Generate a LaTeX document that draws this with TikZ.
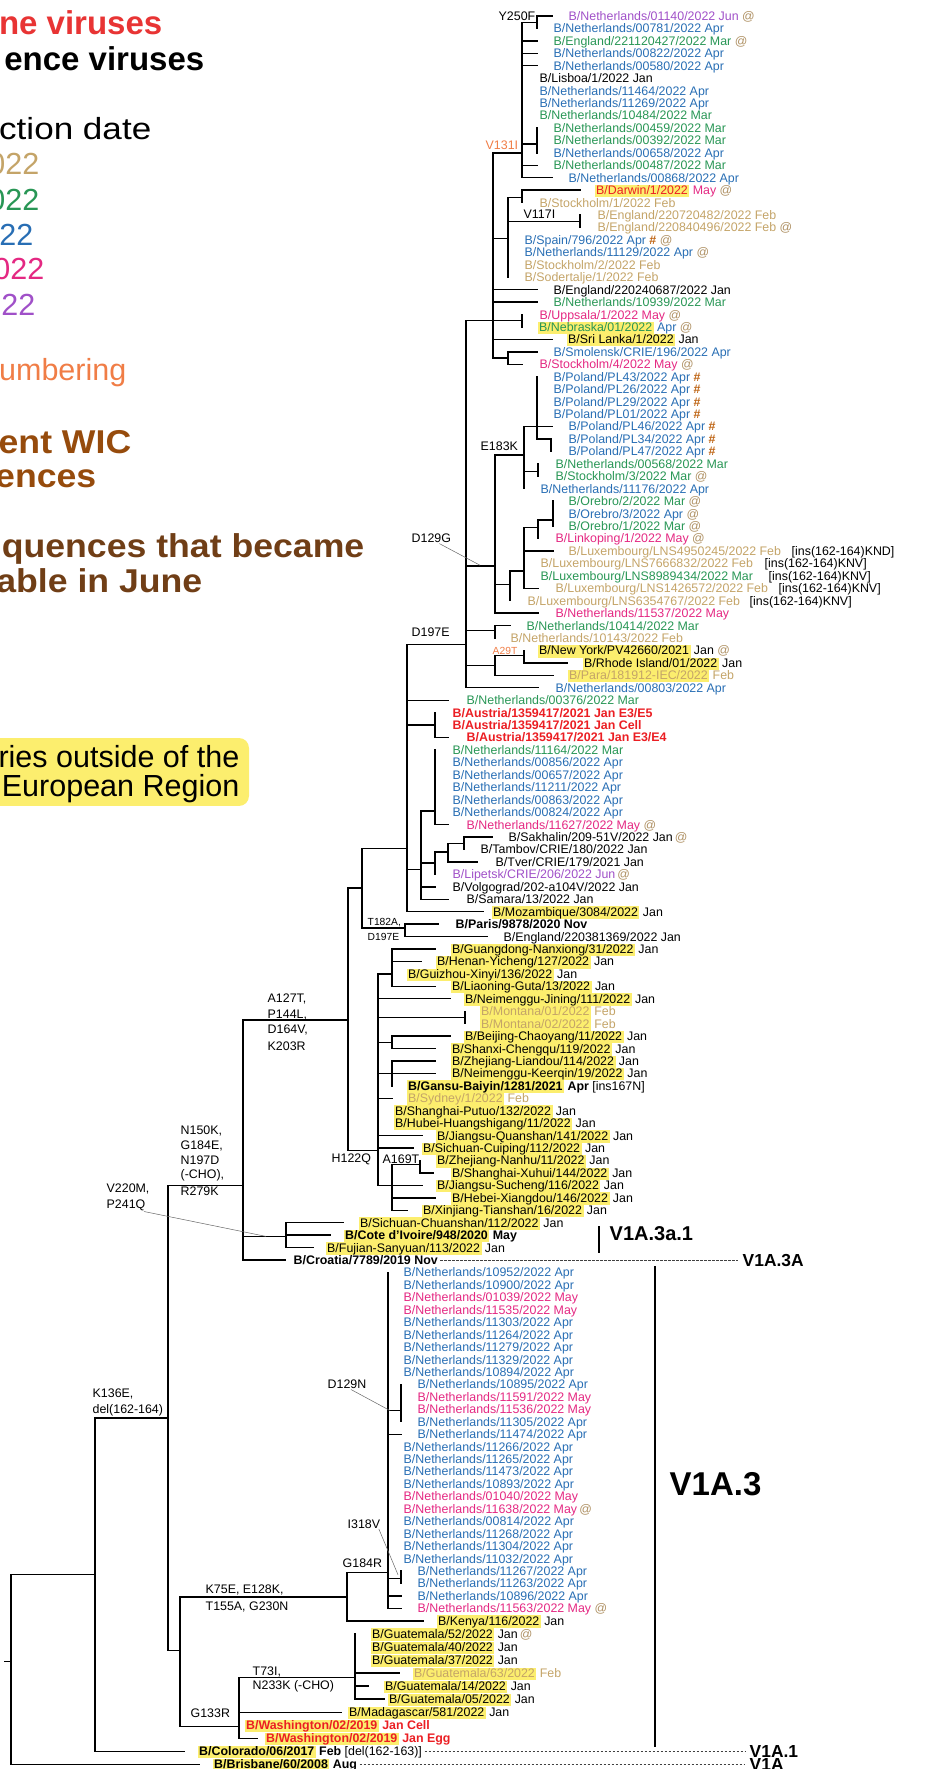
\documentclass[tikz,border=0pt]{standalone}
\usepackage{fontspec}
\setmainfont{Liberation Sans}
\usepackage{graphicx}
\definecolor{cfeb}{RGB}{196,164,104}
\definecolor{cmar}{RGB}{40,150,85}
\definecolor{capr}{RGB}{40,110,180}
\definecolor{cmay}{RGB}{228,40,130}
\definecolor{cjun}{RGB}{160,80,200}
\definecolor{cvac}{RGB}{235,30,35}
\definecolor{cvacl}{RGB}{232,52,52}
\definecolor{cnum}{RGB}{240,125,70}
\definecolor{cwic}{RGB}{150,75,12}
\definecolor{cjune}{RGB}{112,62,22}
\definecolor{cat}{RGB}{175,145,100}
\definecolor{chash}{RGB}{190,100,20}
\definecolor{hly}{RGB}{252,238,110}
\setlength{\fboxsep}{0pt}
\newcommand{\hlname}[1]{\colorbox{hly}{\hspace{1.5pt}\rule[-2.6pt]{0pt}{12.44pt}#1\hspace{1.5pt}}}
\newcommand{\atmark}{\textcolor{cat}{@}}
\newcommand{\hashmark}{\textcolor{chash}{\textbf{\#}}}
\tikzset{
  tip/.style={anchor=west, inner sep=0pt, text height=8.9pt, text depth=0pt, font=\fontsize{12.4}{14}\selectfont},
  mut/.style={anchor=west, inner sep=0pt, font=\fontsize{12.4}{14}\selectfont},
  smallmut/.style={anchor=west, inner sep=0pt, font=\fontsize{10.3}{12}\selectfont},
  lead/.style={line width=0.5pt, black!60, line cap=butt},
  clade/.style={line width=0.7pt, black!75, line cap=butt, dash pattern=on 2.5pt off 1.5pt},
  cladename/.style={anchor=west, inner sep=0pt, font=\bfseries\fontsize{17.4}{20}\selectfont},
  legend/.style={anchor=base east, inner sep=0pt, font=\fontsize{30.5}{34}\selectfont},
  legendbold/.style={anchor=base east, inner sep=0pt, font=\bfseries\fontsize{33}{36}\selectfont}
}
\begin{document}
\begin{tikzpicture}[x=1pt, y=-12.44pt, line width=1.4pt, line cap=rect]
\useasboundingbox (0,-0.2862) rectangle (942,141.914);

\fill[hly, rounded corners=10pt] (-12,59.04) rectangle (249,64.5);
\node[legendbold, text=cvacl] (lvac) at (163,2.527) {ne viruses};
\node[legendbold] (lref) at (205,5.42) {ence viruses};
\node[legend] (ldate) at (152,10.89) {\scalebox{1.15}[1]{ction date}};
\node[legend, text=cfeb] (lfeb) at (40,13.78) {022};
\node[legend, text=cmar] (lmar) at (40,16.6) {022};
\node[legend, text=capr] (lapr) at (34,19.41) {22};
\node[legend, text=cmay] (lmay) at (45,22.22) {022};
\node[legend, text=cjun] (ljun) at (36,25.04) {22};
\node[legend, text=cnum] (lnum) at (127,30.34) {umbering};
\node[legendbold, text=cwic] (lwic) at (132,36.13) {\scalebox{1.08}[1]{ent WIC}};
\node[legendbold, text=cwic] (lwic2) at (97,38.94) {\scalebox{1.08}[1]{ences}};
\node[legendbold, text=cjune] (ljune) at (365,44.49) {\scalebox{1.08}[1]{quences that became}};
\node[legendbold, text=cjune] (ljune2) at (203,47.38) {\scalebox{1.08}[1]{able in June}};
\node[legend] (lout) at (240,61.37) {ries outside of the};
\node[legend] (leur) at (240,63.7) {European Region};

\draw (522,1.5) -- (522,14) (522,1.5) -- (537,1.5) (537,1) -- (537,2) (537,1) -- (552,1);
\draw (522,3) -- (537,3) (522,4) -- (537,4) (522,5) -- (537,5) (522,13) -- (537,13) (522,14) -- (552,14);
\draw (522,11.3) -- (537,11.3) (537,10) -- (537,12) (493,12) -- (522,12);
\draw (493,12) -- (493,28.5) (493,18.9) -- (508,18.9) (508,15.6) -- (508,22);
\draw (508,15.6) -- (522,15.6) (522,15) -- (522,16) (522,15) -- (580,15);
\draw (508,17.5) -- (580,17.5) (580,17) -- (580,18);
\draw (493,23) -- (537,23) (493,24) -- (537,24) (466,25.5) -- (522,25.5) (522,25) -- (522,26) (493,27) -- (552,27);
\draw (493,28.5) -- (508,28.5) (508,28) -- (508,29) (508,28) -- (537,28) (508,29) -- (522,29);
\draw (466,25.5) -- (466,55) (466,45.2) -- (495,45.2) (495,36.3) -- (495,49) (495,36.3) -- (524,36.3);
\draw (524,34) -- (524,39) (524,34) -- (552,34) (537,30) -- (537,35) (537,35) -- (551,35) (551,35) -- (551,36);
\draw (524,37.6) -- (538,37.6) (538,37) -- (538,38);
\draw (495,46.7) -- (510,46.7) (510,45.6) -- (510,48) (510,45.6) -- (524,45.6) (524,42.1) -- (524,47);
\draw (524,42.1) -- (538,42.1) (538,41.5) -- (538,43) (538,41.5) -- (553,41.5) (553,40) -- (553,42);
\draw (524,44) -- (553,44) (524,47) -- (538,47) (495,49) -- (538,49);
\draw (466,50.4) -- (495,50.4) (495,50) -- (495,51) (495,50) -- (510,50);
\draw (466,53.2) -- (495,53.2) (495,52.4) -- (495,54) (495,52.4) -- (524,52.4) (524,52) -- (524,53) (524,53) -- (567,53);
\draw (495,54) -- (553,54) (466,55) -- (538,55);
\draw (407,51.5) -- (466,51.5) (407,51.5) -- (407,73) (407,56) -- (448,56);
\draw (407,58) -- (435,58) (435,57) -- (435,59) (435,59) -- (448,59);
\draw (407,69.6) -- (421,69.6) (421,64.9) -- (421,72) (421,64.9) -- (435,64.9) (435,60) -- (435,66) (435,66) -- (448,66);
\draw (421,69.1) -- (435,69.1) (435,68.2) -- (435,70) (435,68.2) -- (448,68.2) (448,67.5) -- (448,69);
\draw (448,67.5) -- (464,67.5) (464,67) -- (464,68) (464,67) -- (492,67) (448,69) -- (477,69);
\draw (421,71) -- (435,71) (421,72) -- (448,72) (407,73) -- (483,73);
\draw (362,67.9) -- (407,67.9) (362,67.9) -- (362,74.3) (362,74.3) -- (405,74.3) (405,74) -- (405,75) (405,74) -- (438,74) (405,75) -- (487,75);
\draw (348,71.1) -- (362,71.1) (348,71.1) -- (348,92.2) (243,81.7) -- (348,81.7) (348,92.2) -- (378,92.2);
\draw (378,78) -- (378,95) (378,78) -- (392,78) (392,76) -- (392,79) (392,76) -- (435,76) (392,77) -- (421,77) (392,79) -- (435,79);
\draw (378,80) -- (450,80) (378,81.5) -- (465,81.5) (465,81) -- (465,82);
\draw (378,83.5) -- (392,83.5) (392,83) -- (392,84) (392,83) -- (450,83) (392,84) -- (435,84);
\draw (378,86) -- (392,86) (392,85) -- (392,87) (392,85) -- (435,85) (392,86) -- (435,86) (378,88) -- (392,88);
\draw (378,91) -- (422,91) (378,92) -- (413,92);
\draw (378,95) -- (392,95) (392,93.3) -- (392,97) (392,93.3) -- (420,93.3) (420,93) -- (420,94) (420,94) -- (433,94);
\draw (392,95) -- (422,95) (392,96) -- (435,96) (392,97) -- (407,97);
\draw (243,81.7) -- (243,101) (243,99.1) -- (286,99.1) (286,98) -- (286,100) (286,98) -- (343,98) (286,99) -- (330,99) (286,100) -- (313,100);
\draw (243,101) -- (285,101) (168,95) -- (243,95);
\draw (168,95) -- (168,132.41) (95,113.7) -- (168,113.7) (168,132.41) -- (180,132.41) (180,128.1) -- (180,138.5);
\draw (180,128.1) -- (347,128.1) (347,126.1) -- (347,130) (347,126.1) -- (388,126.1) (347,130) -- (423,130);
\draw (388,102) -- (388,129) (388,113.1) -- (401,113.1) (401,111) -- (401,114) (388,115) -- (401,115);
\draw (388,126.6) -- (401,126.6) (401,126) -- (401,127) (388,128) -- (401,128) (388,129) -- (401,129);
\draw (180,138.5) -- (239,138.5) (239,134.55) -- (239,139.45) (239,134.55) -- (355,134.55) (355,131.05) -- (355,136.3);
\draw (355,134.2) -- (399,134.2) (355,135.25) -- (368,135.25) (355,136.3) -- (384,136.3);
\draw (239,137.35) -- (341,137.35) (239,139.45) -- (257,139.45);
\draw (95,113.7) -- (95,140.5) (95,140.5) -- (184,140.5);
\draw (11,126.3) -- (95,126.3) (11,126.3) -- (11,141.55) (11,141.55) -- (199,141.55) (5,133.25) -- (11,133.25);

\node[mut] (y250f) at (498,1) {Y250F};
\node[mut, text=cnum] (v131i) at (485,11.4) {V131I};
\node[mut] (v117i) at (523,16.95) {V117I};
\node[mut] (e183k) at (480,35.55) {E183K};
\node[mut] (d129g) at (411,43) {D129G};
\node[mut] (d197e) at (411,50.5) {D197E};
\node[smallmut, text=cnum] (a29t) at (492,52) {A29T};
\node[smallmut] (t182a) at (367,73.85) {T182A,};
\node[smallmut] (d197e2) at (367,75) {D197E};
\node[mut] (a127t) at (267,80) {A127T,};
\node[mut] (p144l) at (267,81.3) {P144L,};
\node[mut] (d164v) at (267,82.5) {D164V,};
\node[mut] (k203r) at (267,83.8) {K203R};
\node[mut] (h122q) at (331,92.9) {H122Q};
\node[mut] (a169t) at (382,92.9) {A169T};
\node[mut] (n150k) at (180,90.6) {N150K,};
\node[mut] (g184e) at (180,91.8) {G184E,};
\node[mut] (n197d) at (180,93) {N197D};
\node[mut] (cho1) at (180,94.2) {(-CHO),};
\node[mut] (r279k) at (180,95.5) {R279K};
\node[mut] (v220m) at (106,95.3) {V220M,};
\node[mut] (p241q) at (106,96.6) {P241Q};
\node[mut] (d129n) at (327,111) {D129N};
\node[mut] (i318v) at (347,122.2) {I318V};
\node[mut] (g184r) at (342,125.4) {G184R};
\node[mut] (k75e) at (205,127.5) {K75E, E128K,};
\node[mut] (t155a) at (205,128.85) {T155A, G230N};
\node[mut] (k136e) at (92,111.8) {K136E,};
\node[mut] (del164) at (92,113.05) {del(162-164)};
\node[mut] (t73i) at (252,134.1) {T73I,};
\node[mut] (n233k) at (252,135.25) {N233K (-CHO)};
\node[mut] (g133r) at (190,137.45) {G133R};

\coordinate (d129gend) at (480,45.15);
\coordinate (v220mend) at (266,99.1);
\coordinate (d129nend) at (390,113.1);
\coordinate (i318vend) at (398,126.3);
\draw[lead] ([xshift=8pt]d129g.south) -- (d129gend);
\draw[lead] ([xshift=-2pt]p241q.south east) -- (v220mend);
\draw[lead] ([xshift=4pt]d129n.south) -- (d129nend);
\draw[lead] ([xshift=-2pt]i318v.south east) -- (i318vend);

\node[tip, text=cjun] (n1) at (568,1) {B/Netherlands/01140/2022 Jun \atmark};
\node[tip, text=capr] (n2) at (553,2) {B/Netherlands/00781/2022 Apr};
\node[tip, text=cmar] (n3) at (553,3) {B/England/221120427/2022 Mar \atmark};
\node[tip, text=capr] (n4) at (553,4) {B/Netherlands/00822/2022 Apr};
\node[tip, text=capr] (n5) at (553,5) {B/Netherlands/00580/2022 Apr};
\node[tip] (n6) at (539,6) {B/Lisboa/1/2022 Jan};
\node[tip, text=capr] (n7) at (539,7) {B/Netherlands/11464/2022 Apr};
\node[tip, text=capr] (n8) at (539,8) {B/Netherlands/11269/2022 Apr};
\node[tip, text=cmar] (n9) at (539,9) {B/Netherlands/10484/2022 Mar};
\node[tip, text=cmar] (n10) at (553,10) {B/Netherlands/00459/2022 Mar};
\node[tip, text=cmar] (n11) at (553,11) {B/Netherlands/00392/2022 Mar};
\node[tip, text=capr] (n12) at (553,12) {B/Netherlands/00658/2022 Apr};
\node[tip, text=cmar] (n13) at (553,13) {B/Netherlands/00487/2022 Mar};
\node[tip, text=capr] (n14) at (568,14) {B/Netherlands/00868/2022 Apr};
\node[tip] (n15) at (594,15) {\textcolor{cvac}{\hlname{B/Darwin/1/2022}} \textcolor{cmay}{May} \atmark};
\node[tip, text=cfeb] (n16) at (539,16) {B/Stockholm/1/2022 Feb};
\node[tip, text=cfeb] (n17) at (597,17) {B/England/220720482/2022 Feb};
\node[tip, text=cfeb] (n18) at (597,18) {B/England/220840496/2022 Feb \atmark};
\node[tip, text=capr] (n19) at (524,19) {B/Spain/796/2022 Apr \hashmark\ \atmark};
\node[tip, text=capr] (n20) at (524,20) {B/Netherlands/11129/2022 Apr \atmark};
\node[tip, text=cfeb] (n21) at (524,21) {B/Stockholm/2/2022 Feb};
\node[tip, text=cfeb] (n22) at (524,22) {B/Sodertalje/1/2022 Feb};
\node[tip] (n23) at (553,23) {B/England/220240687/2022 Jan};
\node[tip, text=cmar] (n24) at (553,24) {B/Netherlands/10939/2022 Mar};
\node[tip, text=cmay] (n25) at (539,25) {B/Uppsala/1/2022 May \atmark};
\node[tip] (n26) at (537,26) {\textcolor{cmar}{\hlname{B/Nebraska/01/2022}} \textcolor{capr}{Apr} \atmark};
\node[tip] (n27) at (566,27) {\hlname{B/Sri Lanka/1/2022} Jan};
\node[tip, text=capr] (n28) at (553,28) {B/Smolensk/CRIE/196/2022 Apr};
\node[tip, text=cmay] (n29) at (539,29) {B/Stockholm/4/2022 May \atmark};
\node[tip, text=capr] (n30) at (553,30) {B/Poland/PL43/2022 Apr \hashmark};
\node[tip, text=capr] (n31) at (553,31) {B/Poland/PL26/2022 Apr \hashmark};
\node[tip, text=capr] (n32) at (553,32) {B/Poland/PL29/2022 Apr \hashmark};
\node[tip, text=capr] (n33) at (553,33) {B/Poland/PL01/2022 Apr \hashmark};
\node[tip, text=capr] (n34) at (568,34) {B/Poland/PL46/2022 Apr \hashmark};
\node[tip, text=capr] (n35) at (568,35) {B/Poland/PL34/2022 Apr \hashmark};
\node[tip, text=capr] (n36) at (568,36) {B/Poland/PL47/2022 Apr \hashmark};
\node[tip, text=cmar] (n37) at (555,37) {B/Netherlands/00568/2022 Mar};
\node[tip, text=cmar] (n38) at (555,38) {B/Stockholm/3/2022 Mar \atmark};
\node[tip, text=capr] (n39) at (540,39) {B/Netherlands/11176/2022 Apr};
\node[tip, text=cmar] (n40) at (568,40) {B/Orebro/2/2022 Mar \atmark};
\node[tip, text=capr] (n41) at (568,41) {B/Orebro/3/2022 Apr \atmark};
\node[tip, text=cmar] (n42) at (568,42) {B/Orebro/1/2022 Mar \atmark};
\node[tip, text=cmay] (n43) at (555,43) {B/Linkoping/1/2022 May \atmark};
\node[tip, text=cfeb] (n44) at (568,44) {B/Luxembourg/LNS4950245/2022 Feb};
\node[tip, text=cfeb] (n45) at (540,45) {B/Luxembourg/LNS7666832/2022 Feb};
\node[tip, text=cmar] (n46) at (540,46) {B/Luxembourg/LNS8989434/2022 Mar};
\node[tip, text=cfeb] (n47) at (555,47) {B/Luxembourg/LNS1426572/2022 Feb};
\node[tip, text=cfeb] (n48) at (527,48) {B/Luxembourg/LNS6354767/2022 Feb};
\node[tip] (ins44) at (791,44) {[ins(162-164)KND]};
\node[tip] (ins45) at (764,45) {[ins(162-164)KNV]};
\node[tip] (ins46) at (768,46) {[ins(162-164)KNV]};
\node[tip] (ins47) at (778,47) {[ins(162-164)KNV]};
\node[tip] (ins48) at (749,48) {[ins(162-164)KNV]};
\node[tip, text=cmay] (n49) at (555,49) {B/Netherlands/11537/2022 May};
\node[tip, text=cmar] (n50) at (526,50) {B/Netherlands/10414/2022 Mar};
\node[tip, text=cfeb] (n51) at (510,51) {B/Netherlands/10143/2022 Feb};
\node[tip] (n52) at (537,52) {\hlname{B/New York/PV42660/2021} Jan \atmark};
\node[tip] (n53) at (582,53) {\hlname{B/Rhode Island/01/2022} Jan};
\node[tip, text=cfeb] (n54) at (567,54) {\hlname{B/Para/181912-IEC/2022} Feb};
\node[tip, text=capr] (n55) at (555,55) {B/Netherlands/00803/2022 Apr};
\node[tip, text=cmar] (n56) at (466,56) {B/Netherlands/00376/2022 Mar};
\node[tip, text=cvac] (n57) at (452,57) {\textbf{B/Austria/1359417/2021 Jan E3/E5}};
\node[tip, text=cvac] (n58) at (452,58) {\textbf{B/Austria/1359417/2021 Jan Cell}};
\node[tip, text=cvac] (n59) at (466,59) {\textbf{B/Austria/1359417/2021 Jan E3/E4}};
\node[tip, text=cmar] (n60) at (452,60) {B/Netherlands/11164/2022 Mar};
\node[tip, text=capr] (n61) at (452,61) {B/Netherlands/00856/2022 Apr};
\node[tip, text=capr] (n62) at (452,62) {B/Netherlands/00657/2022 Apr};
\node[tip, text=capr] (n63) at (452,63) {B/Netherlands/11211/2022 Apr};
\node[tip, text=capr] (n64) at (452,64) {B/Netherlands/00863/2022 Apr};
\node[tip, text=capr] (n65) at (452,65) {B/Netherlands/00824/2022 Apr};
\node[tip, text=cmay] (n66) at (466,66) {B/Netherlands/11627/2022 May \atmark};
\node[tip] (n67) at (508,67) {B/Sakhalin/209-51V/2022 Jan\,\atmark};
\node[tip] (n68) at (480,68) {B/Tambov/CRIE/180/2022 Jan};
\node[tip] (n69) at (495,69) {B/Tver/CRIE/179/2021 Jan};
\node[tip, text=cjun] (n70) at (452,70) {B/Lipetsk/CRIE/206/2022 Jun\,\atmark};
\node[tip] (n71) at (452,71) {B/Volgograd/202-a104V/2022 Jan};
\node[tip] (n72) at (466,72) {B/Samara/13/2022 Jan};
\node[tip] (n73) at (491,73) {\hlname{B/Mozambique/3084/2022} Jan};
\node[tip] (n74) at (455,74) {\textbf{B/Paris/9878/2020 Nov}};
\node[tip] (n75) at (503,75) {B/England/220381369/2022 Jan};
\node[tip] (n76) at (450,76) {\hlname{B/Guangdong-Nanxiong/31/2022} Jan};
\node[tip] (n77) at (435,77) {\hlname{B/Henan-Yicheng/127/2022} Jan};
\node[tip] (n78) at (406,78) {\hlname{B/Guizhou-Xinyi/136/2022} Jan};
\node[tip] (n79) at (450,79) {\hlname{B/Liaoning-Guta/13/2022} Jan};
\node[tip] (n80) at (463,80) {\hlname{B/Neimenggu-Jining/111/2022} Jan};
\node[tip, text=cfeb] (n81) at (479,81) {\hlname{B/Montana/01/2022} Feb};
\node[tip, text=cfeb] (n82) at (479,82) {\hlname{B/Montana/02/2022} Feb};
\node[tip] (n83) at (463,83) {\hlname{B/Beijing-Chaoyang/11/2022} Jan};
\node[tip] (n84) at (450,84) {\hlname{B/Shanxi-Chengqu/119/2022} Jan};
\node[tip] (n85) at (450,85) {\hlname{B/Zhejiang-Liandou/114/2022} Jan};
\node[tip] (n86) at (450,86) {\hlname{B/Neimenggu-Keerqin/19/2022} Jan};
\node[tip] (n87) at (406,87) {\textbf{\hlname{B/Gansu-Baiyin/1281/2021} Apr} [ins167N]};
\node[tip, text=cfeb] (n88) at (406,88) {\hlname{B/Sydney/1/2022} Feb};
\node[tip] (n89) at (393,89) {\hlname{B/Shanghai-Putuo/132/2022} Jan};
\node[tip] (n90) at (393,90) {\hlname{B/Hubei-Huangshigang/11/2022} Jan};
\node[tip] (n91) at (435,91) {\hlname{B/Jiangsu-Quanshan/141/2022} Jan};
\node[tip] (n92) at (421,92) {\hlname{B/Sichuan-Cuiping/112/2022} Jan};
\node[tip] (n93) at (435,93) {\hlname{B/Zhejiang-Nanhu/11/2022} Jan};
\node[tip] (n94) at (450,94) {\hlname{B/Shanghai-Xuhui/144/2022} Jan};
\node[tip] (n95) at (435,95) {\hlname{B/Jiangsu-Sucheng/116/2022} Jan};
\node[tip] (n96) at (450,96) {\hlname{B/Hebei-Xiangdou/146/2022} Jan};
\node[tip] (n97) at (421,97) {\hlname{B/Xinjiang-Tianshan/16/2022} Jan};
\node[tip] (n98) at (358,98) {\hlname{B/Sichuan-Chuanshan/112/2022} Jan};
\node[tip] (n99) at (343,99) {\textbf{\hlname{B/Cote d'Ivoire/948/2020} May}};
\node[tip] (n100) at (325,100) {\hlname{B/Fujian-Sanyuan/113/2022} Jan};
\node[tip] (n101) at (293,101) {\textbf{B/Croatia/7789/2019 Nov}};
\node[tip, text=capr] (n102) at (403,102) {B/Netherlands/10952/2022 Apr};
\node[tip, text=capr] (n103) at (403,103) {B/Netherlands/10900/2022 Apr};
\node[tip, text=cmay] (n104) at (403,104) {B/Netherlands/01039/2022 May};
\node[tip, text=cmay] (n105) at (403,105) {B/Netherlands/11535/2022 May};
\node[tip, text=capr] (n106) at (403,106) {B/Netherlands/11303/2022 Apr};
\node[tip, text=capr] (n107) at (403,107) {B/Netherlands/11264/2022 Apr};
\node[tip, text=capr] (n108) at (403,108) {B/Netherlands/11279/2022 Apr};
\node[tip, text=capr] (n109) at (403,109) {B/Netherlands/11329/2022 Apr};
\node[tip, text=capr] (n110) at (403,110) {B/Netherlands/10894/2022 Apr};
\node[tip, text=capr] (n111) at (417,111) {B/Netherlands/10895/2022 Apr};
\node[tip, text=cmay] (n112) at (417,112) {B/Netherlands/11591/2022 May};
\node[tip, text=cmay] (n113) at (417,113) {B/Netherlands/11536/2022 May};
\node[tip, text=capr] (n114) at (417,114) {B/Netherlands/11305/2022 Apr};
\node[tip, text=capr] (n115) at (417,115) {B/Netherlands/11474/2022 Apr};
\node[tip, text=capr] (n116) at (403,116) {B/Netherlands/11266/2022 Apr};
\node[tip, text=capr] (n117) at (403,117) {B/Netherlands/11265/2022 Apr};
\node[tip, text=capr] (n118) at (403,118) {B/Netherlands/11473/2022 Apr};
\node[tip, text=capr] (n119) at (403,119) {B/Netherlands/10893/2022 Apr};
\node[tip, text=cmay] (n120) at (403,120) {B/Netherlands/01040/2022 May};
\node[tip, text=cmay] (n121) at (403,121) {B/Netherlands/11638/2022 May\,\atmark};
\node[tip, text=capr] (n122) at (403,122) {B/Netherlands/00814/2022 Apr};
\node[tip, text=capr] (n123) at (403,123) {B/Netherlands/11268/2022 Apr};
\node[tip, text=capr] (n124) at (403,124) {B/Netherlands/11304/2022 Apr};
\node[tip, text=capr] (n125) at (403,125) {B/Netherlands/11032/2022 Apr};
\node[tip, text=capr] (n126) at (417,126) {B/Netherlands/11267/2022 Apr};
\node[tip, text=capr] (n127) at (417,127) {B/Netherlands/11263/2022 Apr};
\node[tip, text=capr] (n128) at (417,128) {B/Netherlands/10896/2022 Apr};
\node[tip, text=cmay] (n129) at (417,129) {B/Netherlands/11563/2022 May \atmark};
\node[tip] (n130) at (436,130) {\hlname{B/Kenya/116/2022} Jan};
\node[tip] (n131) at (370,131.05) {\hlname{B/Guatemala/52/2022} Jan\,\atmark};
\node[tip] (n132) at (370,132.1) {\hlname{B/Guatemala/40/2022} Jan};
\node[tip] (n133) at (370,133.15) {\hlname{B/Guatemala/37/2022} Jan};
\node[tip, text=cfeb] (n134) at (412,134.2) {\hlname{B/Guatemala/63/2022} Feb};
\node[tip] (n135) at (383,135.25) {\hlname{B/Guatemala/14/2022} Jan};
\node[tip] (n136) at (387,136.3) {\hlname{B/Guatemala/05/2022} Jan};
\node[tip] (n137) at (347,137.35) {\hlname{B/Madagascar/581/2022} Jan};
\node[tip, text=cvac] (n138) at (244,138.4) {\textbf{\hlname{B/Washington/02/2019} Jan Cell}};
\node[tip, text=cvac] (n139) at (264,139.45) {\textbf{\hlname{B/Washington/02/2019} Jan Egg}};
\node[tip] (n140) at (197,140.5) {\textbf{\hlname{B/Colorado/06/2017} Feb} [del(162-163)]};
\node[tip] (n141) at (212,141.55) {\textbf{\hlname{B/Brisbane/60/2008} Aug}};

\node[cladename] (v1a3a1) at (609,98.9) {\fontsize{20}{22}\selectfont V1A.3a.1};
\node[cladename] (v1a3A) at (742,101) {V1A.3A};
\node[cladename] (v1a3) at (669,119) {\fontsize{33}{36}\selectfont V1A.3};
\node[cladename] (v1a1) at (749,140.5) {V1A.1};
\node[cladename] (v1a) at (749,141.55) {V1A};
\draw (599,98.3) -- (599,100.4);
\draw (655,101.5) -- (655,140.1);
\draw[clade] ([xshift=2pt]n101.east) -- ([xshift=-4pt]v1a3A.west);
\draw[clade] ([xshift=2pt]n140.east) -- ([xshift=-4pt]v1a1.west);
\draw[clade] ([xshift=2pt]n141.east) -- ([xshift=-4pt]v1a.west);
\end{tikzpicture}
\end{document}
